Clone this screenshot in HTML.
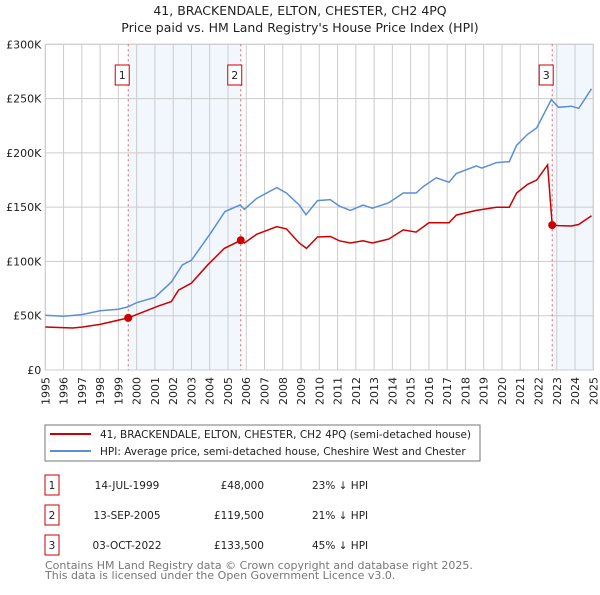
<!DOCTYPE html>
<html><head><meta charset="utf-8"><style>
body{margin:0;background:#fff;font-family:"Liberation Sans","DejaVu Sans",sans-serif;}
svg text{font-family:"DejaVu Sans","Liberation Sans",sans-serif;}
</style></head><body>
<svg id="chart" width="600" height="590" xmlns="http://www.w3.org/2000/svg">
<text x="300" y="15" text-anchor="middle" font-size="12.5" fill="#222">41, BRACKENDALE, ELTON, CHESTER, CH2 4PQ</text>
<text x="300" y="32" text-anchor="middle" font-size="12.5" fill="#222">Price paid vs. HM Land Registry's House Price Index (HPI)</text>
<g id="plot"></g>
<rect x="45" y="425" width="435" height="36" fill="#fff" stroke="#777"/>
<line x1="50" y1="434" x2="91" y2="434" stroke="#cc0000" stroke-width="2"/>
<text x="100" y="438" font-size="10.5" fill="#222">41, BRACKENDALE, ELTON, CHESTER, CH2 4PQ (semi-detached house)</text>
<line x1="50" y1="451" x2="91" y2="451" stroke="#5b8fd6" stroke-width="2"/>
<text x="100" y="455" font-size="10.5" fill="#222">HPI: Average price, semi-detached house, Cheshire West and Chester</text>
<g id="table" font-size="11" fill="#222"></g>
<text x="45" y="569" font-size="11" fill="#777">Contains HM Land Registry data © Crown copyright and database right 2025.</text>
<text x="45" y="579" font-size="11" fill="#777">This data is licensed under the Open Government Licence v3.0.</text>
</svg>
<script>
const hpiYears=[1995,1995.5,1996,1997,1998,1999,1999.5,2000,2001,2001.9,2002.5,2003,2004.05,2004.84,2005.66,2005.9,2006.57,2007.67,2008.2,2008.9,2009.27,2009.9,2010.6,2011.1,2011.7,2012.4,2012.9,2013.8,2014.6,2015.3,2015.7,2016.4,2017.1,2017.5,2018.6,2018.9,2019.7,2020.4,2020.8,2021.4,2021.9,2022.7,2023.1,2023.8,2024.2,2024.9];
const hpiValues=[50.5,50,49.5,51,54.5,56,58,62,67,81,96.7,101,126,146,152,148,158,168,163,152,143,156,157,151,147,152,149,154,163,163,169,177,173,181,188,186,191,192,207,217,223,249,242,243,241,259];
const priceYears=[1995,1996.5,1997,1998,1999.54,2000,2001.2,2001.9,2002.3,2003,2003.9,2004.8,2005.7,2005.9,2006.57,2007.67,2008.2,2008.9,2009.3,2009.9,2010.6,2011.1,2011.7,2012.4,2012.9,2013.8,2014.6,2015.3,2016,2017.1,2017.5,2018.6,2019.7,2020.4,2020.8,2021.4,2021.9,2022.5,2022.75,2023.1,2023.8,2024.2,2024.9];
const priceValues=[39.6,38.7,39.5,42,48,51,59,63,73.6,80,97,112,119.5,117,125,132,130,117,112,122.5,123,119,117,119,117,120.6,129,127,135.6,135.6,142.7,147,150,150,163,171,175,189,133.5,133,132.6,134,142];
const saleYears=[1999.54,2005.70,2022.75];
const saleValues=[48,119.5,133.5];
const saleLabels=["1","2","3"];
const saleDates=["14-JUL-1999","13-SEP-2005","03-OCT-2022"];
const salePrices=["£48,000","£119,500","£133,500"];
const saleDiffs=["23% ↓ HPI","21% ↓ HPI","45% ↓ HPI"];
const yTicks=[0,50,100,150,200,250,300];
const yTickLabels=["£0","£50K","£100K","£150K","£200K","£250K","£300K"];
const xTicks=[];for(let y=1995;y<=2025;y++)xTicks.push(y);

const X0=45.3,X1=593.3,Y0=370,Y1=44.3;
const xs=y=>X0+(y-1995)*(X1-X0)/30;
const ys=v=>Y0-v*(Y0-Y1)/300;
const NS="http://www.w3.org/2000/svg";
const g=document.getElementById('plot');
function mk(tag,attrs,parent){const e=document.createElementNS(NS,tag);for(const k in attrs)e.setAttribute(k,attrs[k]);(parent||g).appendChild(e);return e;}

let e;
e=mk('rect',{x:xs(saleYears[0]),y:Y1,width:xs(saleYears[1])-xs(saleYears[0]),height:Y0-Y1,fill:'#eef3fc',opacity:0.75});


e=mk('rect',{x:xs(saleYears[2]),y:Y1,width:X1-xs(saleYears[2]),height:Y0-Y1,fill:'#eef3fc',opacity:0.75});



xTicks.forEach(t=>{
 e=mk('line',{x1:xs(t),x2:xs(t),y1:Y1,y2:Y0,stroke:'#ccc','stroke-width':1});
 
 
 e=mk('text',{x:0,y:0,transform:`translate(${xs(t)+4},${Y0+35}) rotate(-90)`,'font-size':11,fill:'#222'});
 e.textContent=t;
 
 
});
yTicks.forEach((t,i)=>{
 e=mk('line',{x1:X0,x2:X1,y1:ys(t),y2:ys(t),stroke:'#ccc','stroke-width':1});
 
 
 e=mk('text',{x:X0-4,y:ys(t)+4,'text-anchor':'end','font-size':11,fill:'#222'});
 e.textContent=yTickLabels[i];
 
 
});
e=mk('rect',{x:X0,y:Y1,width:X1-X0,height:Y0-Y1,fill:'none',stroke:'#ccc'});



saleYears.forEach((s,i)=>{
 e=mk('line',{x1:xs(s),x2:xs(s),y1:Y1,y2:Y0,stroke:'#e06060','stroke-width':1,'stroke-dasharray':'2,3'});
 
 
});

function pts(xa,va){return xa.map((x,i)=>xs(x).toFixed(1)+','+ys(va[i]).toFixed(1)).join(' ');}
e=mk('polyline',{points:pts(hpiYears,hpiValues),fill:'none',stroke:'#5b8fd6','stroke-width':1.5});


e=mk('polyline',{points:pts(priceYears,priceValues),fill:'none',stroke:'#cc0000','stroke-width':1.5});



saleYears.forEach((s,i)=>{
 e=mk('circle',{cx:xs(s),cy:ys(saleValues[i]),r:4,fill:'#cc0000'});
 
 
 e=mk('rect',{x:xs(s)-13,y:65,width:14,height:20,fill:'#fff',stroke:'#cc0000'});
 
 
 e=mk('text',{x:xs(s)-6,y:79,'text-anchor':'middle','font-size':11,fill:'#222'});
 e.textContent=saleLabels[i];
 
 
});

const tg=document.getElementById('table');
saleLabels.forEach((l,i)=>{
 const y=475+i*30;
 e=mk('rect',{x:45,y:y,width:14,height:20,fill:'#fff',stroke:'#cc0000'},tg);
 
 
 e=mk('text',{x:52,y:y+14,'text-anchor':'middle','font-size':10.5},tg);e.textContent=l;
 
 
 e=mk('text',{x:127,y:y+14,'text-anchor':'middle','font-size':10.5},tg);e.textContent=saleDates[i];
 
 
 e=mk('text',{x:264,y:y+14,'text-anchor':'end','font-size':10.5},tg);e.textContent=salePrices[i];
 
 
 e=mk('text',{x:312,y:y+14,'font-size':10.5},tg);e.textContent=saleDiffs[i];
 
 
});
</script>
</body></html>
